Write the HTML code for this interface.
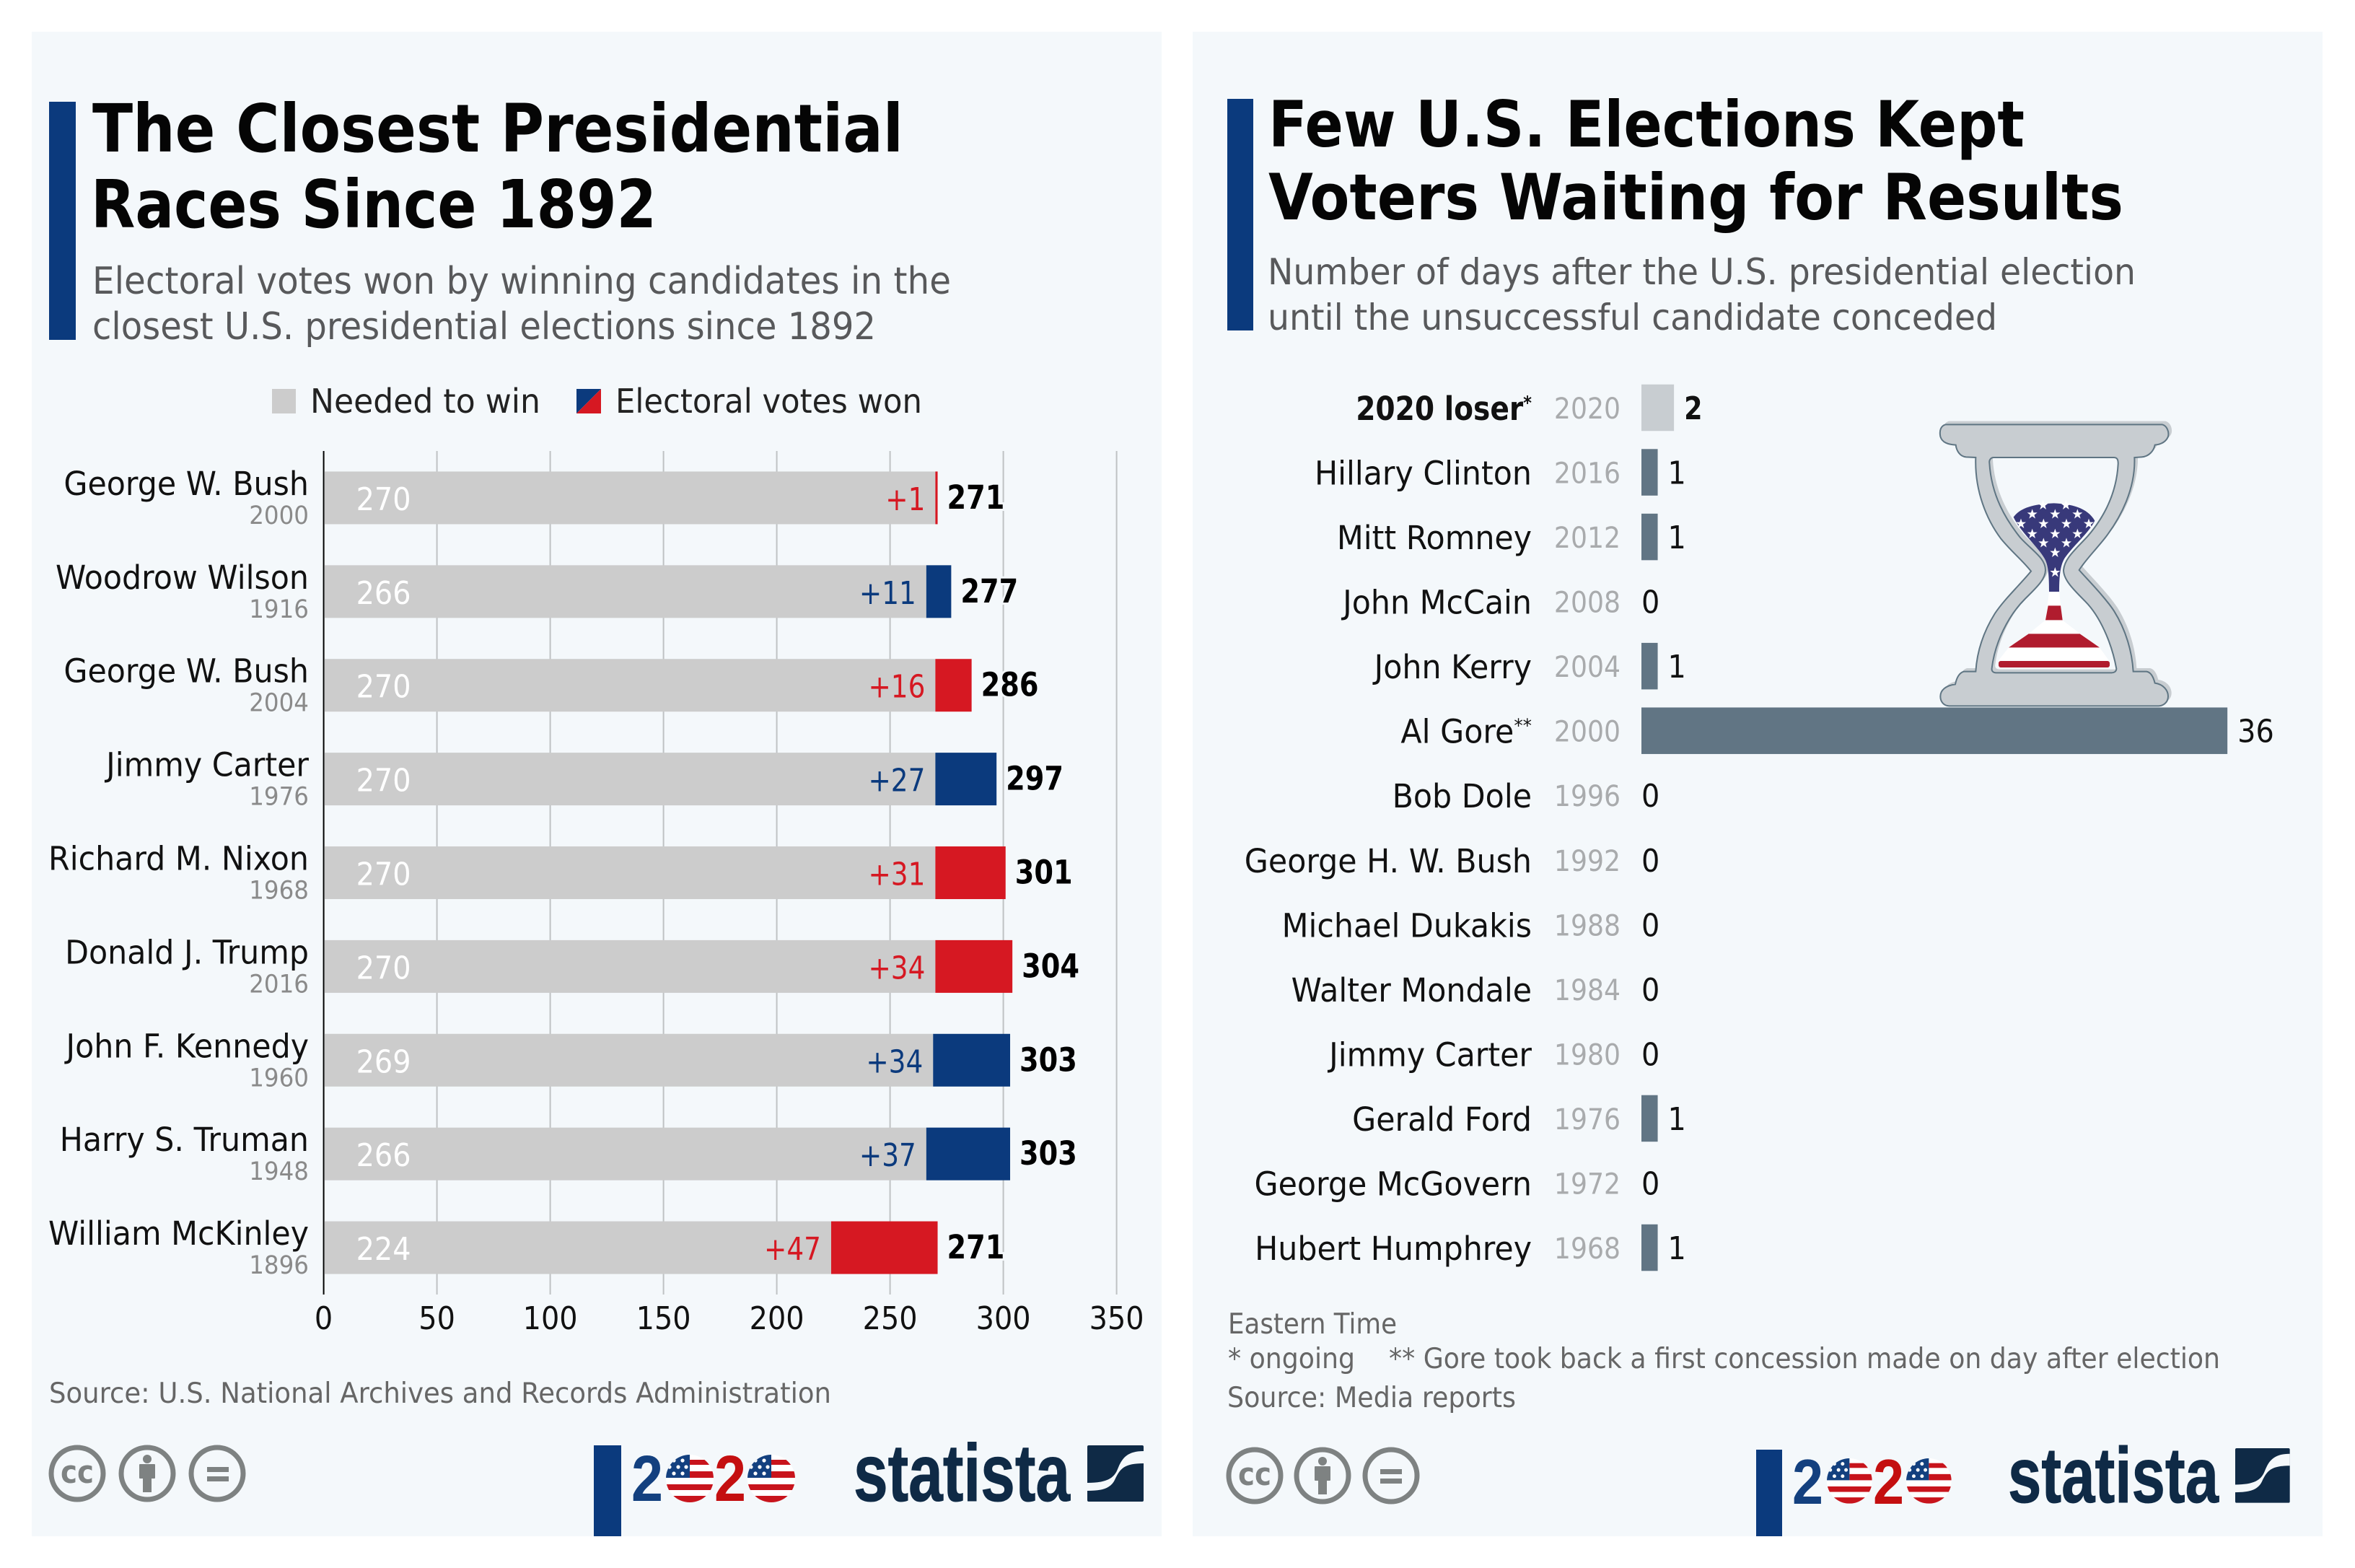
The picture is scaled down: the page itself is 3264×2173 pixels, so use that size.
<!DOCTYPE html>
<html lang="en">
<head>
<meta charset="utf-8">
<title>Closest Presidential Races and Concession Delays</title>
<style>
html,body{margin:0;padding:0;background:#fff;width:3264px;height:2173px;overflow:hidden}
svg{display:block}
text{font-family:"DejaVu Sans","Liberation Sans",sans-serif}
.logo{font-family:"Liberation Sans",sans-serif;font-weight:bold}
</style>
</head>
<body>
<svg id="root" width="3264" height="2173" viewBox="0 0 3264 2173" xmlns="http://www.w3.org/2000/svg">
<defs>
  <clipPath id="flag-clip"><circle cx="33" cy="33" r="33"/></clipPath>
  <g id="flag-icon" clip-path="url(#flag-clip)">
    <rect width="66" height="66" fill="#fff"/>
    <rect x="33" y="7" width="33" height="7" fill="#c8141c"/>
    <rect x="33" y="23" width="33" height="9" fill="#c8141c"/>
    <rect x="0" y="41" width="66" height="8" fill="#c8141c"/>
    <rect x="0" y="57" width="66" height="9" fill="#c8141c"/>
    <rect x="0" y="0" width="33" height="32" fill="#13407f"/>
    <g fill="#fff"><circle cx="11" cy="8" r="2.6"/><circle cx="23" cy="8" r="2.6"/><circle cx="5" cy="17" r="2.6"/><circle cx="17" cy="17" r="2.6"/><circle cx="28" cy="17" r="2.6"/><circle cx="11" cy="26" r="2.6"/><circle cx="23" cy="26" r="2.6"/></g>
  </g>
  <g id="statista-mark">
    <rect width="78" height="78" rx="2" fill="#0f2a46"/>
    <path d="M78 8C55 8 48 18 42 33C37 46 26 52 0 52L0 63C20 63 32 60 38 48C45 33 50 25 78 25Z" fill="#f4f8fb"/>
  </g>
  <polygon id="hg-star" points="0,-22 5.2,-7 21,-7 8.3,2.7 13,18 0,8.6 -13,18 -8.3,2.7 -21,-7 -5.2,-7" fill="#fff"/>
  <g id="cc-ring"><circle r="36" fill="none" stroke="#7e8282" stroke-width="7"/></g>
</defs>

<!-- LEFT PANEL -->
<rect x="44" y="44" width="1566" height="2085" fill="#f4f8fb"/>
<rect x="68" y="141" width="37" height="330" fill="#0b3a7d"/>
<text x="128" y="210" font-size="92" font-weight="bold" fill="#050505" textLength="1124" lengthAdjust="spacingAndGlyphs">The Closest Presidential</text>
<text x="126" y="315" font-size="92" font-weight="bold" fill="#050505" textLength="784" lengthAdjust="spacingAndGlyphs">Races Since 1892</text>
<text x="128" y="407" font-size="52" fill="#58595b" textLength="1190" lengthAdjust="spacingAndGlyphs">Electoral votes won by winning candidates in the</text>
<text x="128" y="470" font-size="52" fill="#58595b" textLength="1086" lengthAdjust="spacingAndGlyphs">closest U.S. presidential elections since 1892</text>

<rect x="377" y="539" width="33" height="34" fill="#cccccc"/>
<text x="430" y="572" font-size="46" fill="#222" textLength="319" lengthAdjust="spacingAndGlyphs">Needed to win</text>
<g>
  <polygon points="799,539 833,539 799,573" fill="#0b3a7d"/>
  <polygon points="833,539 833,573 799,573" fill="#d61822"/>
</g>
<text x="853" y="572" font-size="46" fill="#222" textLength="425" lengthAdjust="spacingAndGlyphs">Electoral votes won</text>

<g id="left-chart"></g>

<text x="68" y="1944" font-size="39" fill="#666" textLength="1084" lengthAdjust="spacingAndGlyphs">Source: U.S. National Archives and Records Administration</text>

<g fill="#7e8282">
  <use href="#cc-ring" x="107" y="2042"/>
  <text x="84" y="2055" font-size="44" font-weight="bold" textLength="46" lengthAdjust="spacingAndGlyphs">cc</text>
  <use href="#cc-ring" x="204" y="2042"/>
  <circle cx="204" cy="2022" r="6"/><rect x="193" y="2029" width="22" height="20" rx="1"/><rect x="198" y="2045" width="12" height="23"/>
  <use href="#cc-ring" x="301" y="2042"/>
  <rect x="287" y="2033" width="30" height="7"/><rect x="287" y="2046" width="30" height="7"/>
</g>

<g>
  <rect x="823" y="2003" width="38" height="126" fill="#0b3a7d"/>
  <text class="logo" x="875" y="2080" font-size="90" fill="#13407f" textLength="44" lengthAdjust="spacingAndGlyphs">2</text>
  <use href="#flag-icon" x="923" y="2016"/>
  <text class="logo" x="990" y="2080" font-size="90" fill="#c40f10" textLength="44" lengthAdjust="spacingAndGlyphs">2</text>
  <use href="#flag-icon" x="1036" y="2016"/>
</g>
<g>
  <text class="logo" x="1183" y="2080" font-size="112" fill="#0f2a46" stroke="#0f2a46" stroke-width="1" textLength="300" lengthAdjust="spacingAndGlyphs">statista</text>
  <use href="#statista-mark" x="1507" y="2003"/>
</g>

<!-- RIGHT PANEL -->
<rect x="1653" y="44" width="1566" height="2085" fill="#f4f8fb"/>
<rect x="1701" y="137" width="36" height="321" fill="#0b3a7d"/>
<text x="1758" y="203" font-size="88" font-weight="bold" fill="#050505" textLength="1048" lengthAdjust="spacingAndGlyphs">Few U.S. Elections Kept</text>
<text x="1758" y="304" font-size="88" font-weight="bold" fill="#050505" textLength="1185" lengthAdjust="spacingAndGlyphs">Voters Waiting for Results</text>
<text x="1757" y="394" font-size="50" fill="#58595b" textLength="1203" lengthAdjust="spacingAndGlyphs">Number of days after the U.S. presidential election</text>
<text x="1757" y="457" font-size="50" fill="#58595b" textLength="1011" lengthAdjust="spacingAndGlyphs">until the unsuccessful candidate conceded</text>

<g id="right-chart"></g>

<g id="hourglass" transform="translate(2640,560) scale(0.33333)">
  <path transform="translate(14,-14)" fill="#c8cdd1" fill-rule="evenodd" d="M170,85L1070,85C1090,90 1100,115 1095,135C1085,160 1060,168 1040,170C1035,195 1015,218 985,220L955,222C960,350 900,470 830,560C790,610 750,650 725,690C760,730 830,800 870,860C920,940 945,1030 950,1112L1005,1112C1025,1115 1035,1140 1040,1160C1075,1165 1095,1190 1095,1215C1095,1240 1075,1255 1055,1255L185,1255C160,1255 148,1235 148,1215C148,1190 170,1170 210,1165C215,1140 225,1118 245,1112L295,1112C300,1030 325,950 375,870C415,810 480,750 525,695C490,650 440,610 400,560C340,480 290,360 295,222L255,220C230,218 215,195 212,170C180,168 155,160 148,135C143,110 150,90 170,85ZM370,222L870,222C885,222 888,235 887,250C880,380 820,480 760,550C710,605 665,640 660,690C660,730 700,770 750,820C810,880 860,990 880,1100C880,1112 870,1117 860,1117L380,1117C368,1117 360,1110 362,1098C375,990 430,880 500,810C545,765 585,730 585,690C585,640 530,610 480,555C420,480 360,380 352,245C350,232 358,222 370,222Z"/>
  <path fill="#c8cdd1" fill-rule="evenodd" d="M170,85L1070,85C1090,90 1100,115 1095,135C1085,160 1060,168 1040,170C1035,195 1015,218 985,220L955,222C960,350 900,470 830,560C790,610 750,650 725,690C760,730 830,800 870,860C920,940 945,1030 950,1112L1005,1112C1025,1115 1035,1140 1040,1160C1075,1165 1095,1190 1095,1215C1095,1240 1075,1255 1055,1255L185,1255C160,1255 148,1235 148,1215C148,1190 170,1170 210,1165C215,1140 225,1118 245,1112L295,1112C300,1030 325,950 375,870C415,810 480,750 525,695C490,650 440,610 400,560C340,480 290,360 295,222L255,220C230,218 215,195 212,170C180,168 155,160 148,135C143,110 150,90 170,85ZM370,222L870,222C885,222 888,235 887,250C880,380 820,480 760,550C710,605 665,640 660,690C660,730 700,770 750,820C810,880 860,990 880,1100C880,1112 870,1117 860,1117L380,1117C368,1117 360,1110 362,1098C375,990 430,880 500,810C545,765 585,730 585,690C585,640 530,610 480,555C420,480 360,380 352,245C350,232 358,222 370,222Z" stroke="#5f7583" stroke-width="6"/>
  <path fill="#fff" d="M600,780L642,780L655,898L730,955L810,1012L850,1068L852,1095L390,1095L388,1068L432,1012L515,955L585,898Z"/>
  <path fill="#38397a" d="M452,470C480,430 540,415 620,412C690,415 760,430 790,485C770,530 700,590 665,640C650,665 642,700 642,780L600,780C600,700 595,665 580,640C550,590 480,530 452,470Z"/>
  <g id="hourglass-stars"></g>
  <path fill="#b01c2e" d="M596,838L648,838L656,898L585,898Z"/>
  <path fill="#b01c2e" d="M515,955L728,955L810,1012L432,1012Z"/>
  <rect x="390" y="1068" width="462" height="27" rx="9" fill="#b01c2e"/>
</g>

<text x="1702" y="1848" font-size="39" fill="#666" textLength="234" lengthAdjust="spacingAndGlyphs">Eastern Time</text>
<text x="1702" y="1896" font-size="39" fill="#666" textLength="176" lengthAdjust="spacingAndGlyphs">* ongoing</text>
<text x="1925" y="1896" font-size="39" fill="#666" textLength="1152" lengthAdjust="spacingAndGlyphs">** Gore took back a first concession made on day after election</text>
<text x="1701" y="1950" font-size="39" fill="#666" textLength="400" lengthAdjust="spacingAndGlyphs">Source: Media reports</text>

<g fill="#7e8282">
  <use href="#cc-ring" x="1739" y="2045"/>
  <text x="1716" y="2058" font-size="44" font-weight="bold" textLength="46" lengthAdjust="spacingAndGlyphs">cc</text>
  <use href="#cc-ring" x="1833" y="2045"/>
  <circle cx="1833" cy="2025" r="6"/><rect x="1822" y="2032" width="22" height="20" rx="1"/><rect x="1827" y="2048" width="12" height="23"/>
  <use href="#cc-ring" x="1928" y="2045"/>
  <rect x="1913" y="2036" width="30" height="7"/><rect x="1913" y="2049" width="30" height="7"/>
</g>

<g>
  <rect x="2434" y="2009" width="36" height="120" fill="#0b3a7d"/>
  <text class="logo" x="2484" y="2084" font-size="88" fill="#13407f" textLength="43" lengthAdjust="spacingAndGlyphs">2</text>
  <use href="#flag-icon" transform="translate(2532,2021) scale(0.95)"/>
  <text class="logo" x="2596" y="2084" font-size="88" fill="#c40f10" textLength="43" lengthAdjust="spacingAndGlyphs">2</text>
  <use href="#flag-icon" transform="translate(2642,2021) scale(0.95)"/>
</g>
<g>
  <text class="logo" x="2783" y="2082" font-size="109" fill="#0f2a46" stroke="#0f2a46" stroke-width="1" textLength="292" lengthAdjust="spacingAndGlyphs">statista</text>
  <use href="#statista-mark" transform="translate(3098,2007) scale(0.97)"/>
</g>
</svg>

<script>
// ---- Left chart data ----
const winners = ["George W. Bush","Woodrow Wilson","George W. Bush","Jimmy Carter","Richard M. Nixon","Donald J. Trump","John F. Kennedy","Harry S. Truman","William McKinley"];
const winnerYears = [2000,1916,2004,1976,1968,2016,1960,1948,1896];
const neededVotes = [270,266,270,270,270,270,269,266,224];
const wonVotes = [271,277,286,297,301,304,303,303,271];
const winnerParties = ["R","D","R","D","R","R","D","D","R"];
const voteTicks = [0,50,100,150,200,250,300,350];

// ---- Right chart data ----
const losers = ["2020 loser","Hillary Clinton","Mitt Romney","John McCain","John Kerry","Al Gore","Bob Dole","George H. W. Bush","Michael Dukakis","Walter Mondale","Jimmy Carter","Gerald Ford","George McGovern","Hubert Humphrey"];
const loserMarks = ["*","","","","","**","","","","","","","",""];
const loserYears = [2020,2016,2012,2008,2004,2000,1996,1992,1988,1984,1980,1976,1972,1968];
const concessionDays = [2,1,1,0,1,36,0,0,0,0,0,1,0,1];

const SVGNS = "http://www.w3.org/2000/svg";
const BG = "#f4f8fb";
const NAVY = "#0b3a7d";
const RED = "#d61822";
const partyColor = {R: RED, D: NAVY};
const SQUEEZE = 0.905;
const NAME_SQUEEZE = 0.95;

// Axis functions
const xVotes = v => 448.6 + v * 3.14;
const leftTop = 625, leftBottom = 1794;
const leftBand = (leftBottom - leftTop) / winners.length;
const leftCenter = i => leftTop + leftBand * (i + 0.5);
const LEFT_BAR_H = 73;

const xDays = d => 2275 + d * 22.56;
const rightBand = 89.54;
const rightCenter = i => 565 + rightBand * i;
const RIGHT_BAR_H = 64.5;

function shape(parent, tag) {
  const el = document.createElementNS(SVGNS, tag);
  parent.appendChild(el);
  return el;
}
function rect(parent, x, y, w, h, fill) {
  const el = shape(parent, "rect");
  el.setAttribute("x", x);
  el.setAttribute("y", y);
  el.setAttribute("width", w);
  el.setAttribute("height", h);
  el.setAttribute("fill", fill);
  return el;
}
function label(parent, str, x, y, size, fill, anchor, sx, bold) {
  const el = shape(parent, "text");
  el.textContent = str;
  el.setAttribute("transform", "translate(" + x + "," + y + ") scale(" + sx + ",1)");
  el.setAttribute("font-size", size);
  el.setAttribute("fill", fill);
  el.setAttribute("text-anchor", anchor);
  if (bold) el.setAttribute("font-weight", "bold");
  return el;
}

// ---- Draw left chart ----
const lc = document.getElementById("left-chart");

voteTicks.forEach(t => {
  const g = shape(lc, "line");
  g.setAttribute("x1", xVotes(t));
  g.setAttribute("x2", xVotes(t));
  g.setAttribute("y1", leftTop);
  g.setAttribute("y2", leftBottom);
  g.setAttribute("stroke", t === 0 ? "#000" : "#bfc2c4");
  g.setAttribute("stroke-width", 2);
  
  
  const tl = label(lc, String(t), xVotes(t), 1842, 44, "#111", "middle", SQUEEZE, false);
  
  
});

winners.forEach((name, i) => {
  const c = leftCenter(i);
  const top = c - LEFT_BAR_H / 2;
  const base = rect(lc, xVotes(0) + 1, top, xVotes(neededVotes[i]) - xVotes(0) - 1, LEFT_BAR_H, "#cccccc");
  
  
  const extra = rect(lc, xVotes(neededVotes[i]), top, xVotes(wonVotes[i]) - xVotes(neededVotes[i]), LEFT_BAR_H, partyColor[winnerParties[i]]);
  
  

  const n = label(lc, name, 428, c - 4, 45, "#111", "end", NAME_SQUEEZE, false);
  
  
  const y = label(lc, String(winnerYears[i]), 428, c + 36, 35, "#8a8a8a", "end", 0.93, false);
  
  

  const inner = label(lc, String(neededVotes[i]), xVotes(0) + 45, c + 17, 44, "#fff", "start", SQUEEZE, false);
  
  
  const d = label(lc, "+" + (wonVotes[i] - neededVotes[i]), xVotes(neededVotes[i]) - 14, c + 17, 44, partyColor[winnerParties[i]], "end", 0.85, false);
  
  
  const v = label(lc, String(wonVotes[i]), xVotes(wonVotes[i]) + 13, c + 15, 45, "#000", "start", 0.85, true);
  v.setAttribute("stroke", BG);
  v.setAttribute("stroke-width", 6);
  v.setAttribute("paint-order", "stroke");
  
  
});

// ---- Draw right chart ----
const rc = document.getElementById("right-chart");
losers.forEach((name, i) => {
  const c = rightCenter(i);
  const first = i === 0;
  const days = concessionDays[i];
  if (days > 0) {
    const b = rect(rc, xDays(0), c - RIGHT_BAR_H / 2, xDays(days) - xDays(0), RIGHT_BAR_H, first ? "#c8cdd1" : "#617584");
    
    
  }
  const n = label(rc, name, 2123, c + 17, 45, "#111", "end", first ? 0.87 : NAME_SQUEEZE, first);
  if (loserMarks[i]) {
    const sup = shape(n, "tspan");
    sup.textContent = loserMarks[i];
    sup.setAttribute("font-size", 26);
    sup.setAttribute("dy", -15);
  }
  
  
  const y = label(rc, String(loserYears[i]), 2246, c + 15, 40, "#a9abad", "end", SQUEEZE, false);
  
  
  const v = label(rc, String(days), xDays(days) + (days > 0 ? 14 : 0), c + 16, 44, "#111", "start", first ? 0.83 : SQUEEZE, first);
  
  
});

// Hourglass stars (illustration, not data)
const starGroup = document.getElementById("hourglass-stars");
[[530,458],[625,458],[718,458],[483,498],[577,498],[672,498],[765,498],[530,540],[625,540],[718,540],[577,578],[672,578],[625,618],[625,700],[575,420],[670,420]].forEach(p => {
  const s = shape(starGroup, "use");
  s.setAttribute("href", "#hg-star");
  s.setAttribute("x", p[0]);
  s.setAttribute("y", p[1]);
  
  
});
</script>
</body>
</html>
